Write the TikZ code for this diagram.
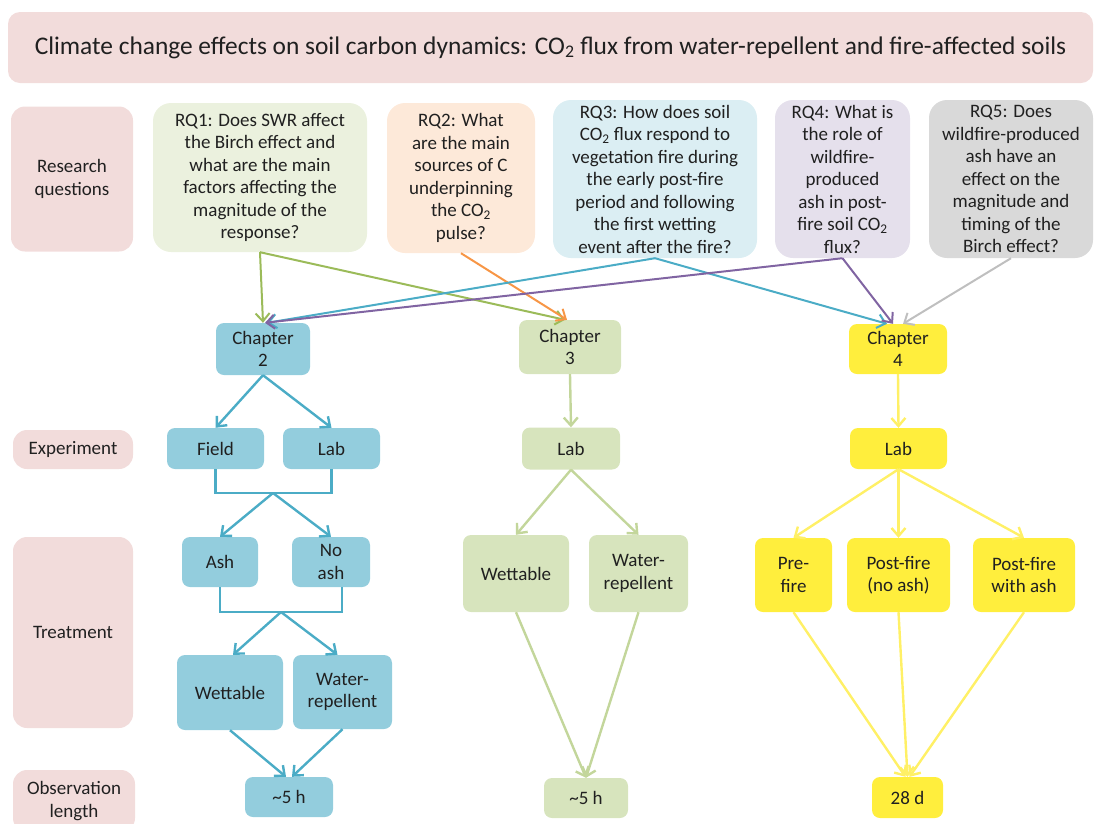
\documentclass[tikz,border=0pt]{standalone}
\usepackage{fontspec}
\setmainfont{Carlito}
\usetikzlibrary{arrows.meta}

\definecolor{ink}{HTML}{202020}
\definecolor{pinkbg}{HTML}{F2DCDB}
\definecolor{rqonebg}{HTML}{EBF1DE}
\definecolor{rqtwobg}{HTML}{FDE9D9}
\definecolor{rqthreebg}{HTML}{DBEEF3}
\definecolor{rqfourbg}{HTML}{E5E0EC}
\definecolor{rqfivebg}{HTML}{D9D9D9}
\definecolor{chtwobg}{HTML}{93CDDD}
\definecolor{chthreebg}{HTML}{D7E4BD}
\definecolor{chfourbg}{HTML}{FFEE3D}
\definecolor{chtwoline}{HTML}{4BACC6}
\definecolor{chthreeline}{HTML}{C3D69B}
\definecolor{chfourline}{HTML}{FFF066}
\definecolor{rqgreen}{HTML}{9BBB59}
\definecolor{rqorange}{HTML}{F79646}
\definecolor{rqteal}{HTML}{4BACC6}
\definecolor{rqpurple}{HTML}{8064A2}
\definecolor{rqgray}{HTML}{BFBFBF}

\tikzset{
	box/.style={fill=#1, text=ink, align=center, inner sep=0pt, rounded corners=8pt},
	sz/.style 2 args={minimum width=#1, minimum height=#2},
	lbl/.style={box=pinkbg, rounded corners=14pt},
	rq/.style={box=#1, rounded corners=18pt},
	link/.style={draw=#1, line width=2pt, -{Straight Barb[length=8pt,width=14pt]}},
	flow/.style={draw=#1, line width=2.4pt, -{Straight Barb[length=8pt,width=14pt]}},
}

\begin{document}
\begin{tikzpicture}[x=1pt, y=-1pt, font=\fontsize{19}{22.5}\selectfont]
	\useasboundingbox (0,0) rectangle (1101,823);
	\clip (0,0) rectangle (1101,823);
	% title and row labels
	\path
		( 550.5,  47.5) node[box=pinkbg, rounded corners=12pt, sz={1085}{71},
		                     font=\fontsize{25.4}{30}\selectfont] (title)
		      {Climate change effects on soil carbon dynamics: CO\textsubscript{2} flux from water-repellent and fire-affected soils}
		(  72,   179)   node[lbl, sz={122}{145}] (lblrq)    {Research\\questions}
		(  73,   449.5) node[lbl, sz={120}{39}]  (lblexp)   {Experiment}
		(  73,   632.5) node[lbl, sz={120}{191}] (lbltreat) {Treatment}
		(  74,   801)   node[lbl, sz={122}{62}]  (lblobs)   {Observation\\length}
	;
	% research questions
	\path
		( 260,   177.5) node[rq=rqonebg,   sz={214}{149}] (rq1)
		      {RQ1: Does SWR affect\\the Birch effect and\\what are the main\\factors affecting the\\magnitude of the\\response?}
		( 461,   178)   node[rq=rqtwobg,   sz={148}{150}] (rq2)
		      {RQ2: What\\are the main\\sources of C\\underpinning\\the CO\textsubscript{2}\\pulse?}
		( 655,   179)   node[rq=rqthreebg, sz={204}{158}] (rq3)
		      {RQ3: How does soil\\CO\textsubscript{2} flux respond to\\vegetation fire during\\the early post-fire\\period and following\\the first wetting\\event after the fire?}
		( 842.5, 179)   node[rq=rqfourbg,  sz={135}{158}] (rq4)
		      {RQ4: What is\\the role of\\wildfire-\\produced\\ash in post-\\fire soil CO\textsubscript{2}\\flux?}
		(1011,   179)   node[rq=rqfivebg,  sz={164}{158}] (rq5)
		      {RQ5: Does\\wildfire-produced\\ash have an\\effect on the\\magnitude and\\timing of the\\Birch effect?}
	;
	% chapter 2
	\path
		( 263,   349)   node[box=chtwobg, sz={94}{52}]  (ch2)     {Chapter\\2}
		( 215.5, 448.5) node[box=chtwobg, sz={97}{41}]  (field)   {Field}
		( 331.5, 448.5) node[box=chtwobg, sz={97}{41}]  (labtwo)  {Lab}
		( 220,   562)   node[box=chtwobg, sz={76}{50}]  (ash)     {Ash}
		( 331,   562)   node[box=chtwobg, sz={78}{50}]  (noash)   {No\\ash}
		( 230,   692.5) node[box=chtwobg, sz={106}{75}] (wettwo)  {Wettable}
		( 342.5, 692)   node[box=chtwobg, sz={99}{74}]  (reptwo)  {Water-\\repellent}
		( 289,   797)   node[box=chtwobg, sz={88}{40}]  (obstwo)  {\textasciitilde5 h}
	;
	\coordinate (forkone) at (273, 493);
	\coordinate (forktwo) at (281, 612);
	% chapter 3
	\path
		( 570,   347)   node[box=chthreebg, sz={102}{54}] (ch3)      {Chapter\\3}
		( 571,   448.5) node[box=chthreebg, sz={98}{42}]  (labthree) {Lab}
		( 516,   573.5) node[box=chthreebg, sz={106}{77}] (wetthree) {Wettable}
		( 638.5, 573.5) node[box=chthreebg, sz={99}{77}]  (repthree) {Water-\\repellent}
		( 586,   798)   node[box=chthreebg, sz={84}{40}]  (obsthree) {\textasciitilde5 h}
	;
	% chapter 4
	\path
		( 898,   349)   node[box=chfourbg, sz={98}{50}]  (ch4)     {Chapter\\4}
		( 898.5, 448.5) node[box=chfourbg, sz={97}{41}]  (labfour) {Lab}
		( 793.5, 575)   node[box=chfourbg, sz={77}{74}]  (pre)     {Pre-\\fire}
		( 898.5, 575)   node[box=chfourbg, sz={103}{74}] (postno)  {Post-fire\\(no ash)}
		(1024,   575)   node[box=chfourbg, sz={102}{74}] (postash) {Post-fire\\with ash}
		( 907.5, 797.5) node[box=chfourbg, sz={71}{41}]  (obsfour) {28 d}
	;
	% questions to chapters
	\draw[link=rqgreen]  (rq1.south) -- (ch2.north);
	\draw[link=rqgreen]  (rq1.south) -- ([xshift=-5pt]ch3.north);
	\draw[link=rqorange] (rq2.south) -- ([xshift=-3pt]ch3.north);
	\draw[link=rqteal]   (rq3.south) -- ([xshift=4pt]ch2.north);
	\draw[link=rqteal]   (rq3.south) -- ([xshift=-11pt]ch4.north);
	\draw[link=rqpurple] (rq4.south) -- ([xshift=2pt]ch2.north);
	\draw[link=rqpurple] (rq4.south) -- ([xshift=-5pt]ch4.north);
	\draw[link=rqgray]   (rq5.south) -- ([xshift=5pt]ch4.north);
	% chapter 2 flow
	\draw[flow=chtwoline] (ch2.south)   -- (field.north);
	\draw[flow=chtwoline] (ch2.south)   -- (labtwo.north);
	\draw[chtwoline, line width=2.4pt] (field.south) |- (forkone) -| (labtwo.south);
	\draw[flow=chtwoline] (forkone)     -- (ash.north);
	\draw[flow=chtwoline] (forkone)     -- (noash.north);
	\draw[chtwoline, line width=2.4pt] (ash.south) |- (forktwo) -| ([xshift=11pt]noash.south);
	\draw[flow=chtwoline] (forktwo)     -- ([xshift=3pt]wettwo.north);
	\draw[flow=chtwoline] (forktwo)     -- ([xshift=-5pt]reptwo.north);
	\draw[flow=chtwoline] (wettwo.south) -- ([xshift=-3pt]obstwo.north);
	\draw[flow=chtwoline] (reptwo.south) -- ([xshift=3pt]obstwo.north);
	% chapter 3 flow
	\draw[flow=chthreeline] (ch3.south)      -- (labthree.north);
	\draw[flow=chthreeline] (labthree.south) -- (wetthree.north);
	\draw[flow=chthreeline] (labthree.south) -- (repthree.north);
	\draw[flow=chthreeline] (wetthree.south) -- (obsthree.north);
	\draw[flow=chthreeline] (repthree.south) -- (obsthree.north);
	% chapter 4 flow
	\draw[flow=chfourline] (ch4.south)     -- (labfour.north);
	\draw[flow=chfourline] (labfour.south) -- (pre.north);
	\draw[flow=chfourline] (labfour.south) -- (postno.north);
	\draw[flow=chfourline] (labfour.south) -- (postash.north);
	\draw[flow=chfourline] (pre.south)     -- ([xshift=-2pt]obsfour.north);
	\draw[flow=chfourline] (postno.south)  -- (obsfour.north);
	\draw[flow=chfourline] (postash.south) -- ([xshift=2pt]obsfour.north);
\end{tikzpicture}
\end{document}
